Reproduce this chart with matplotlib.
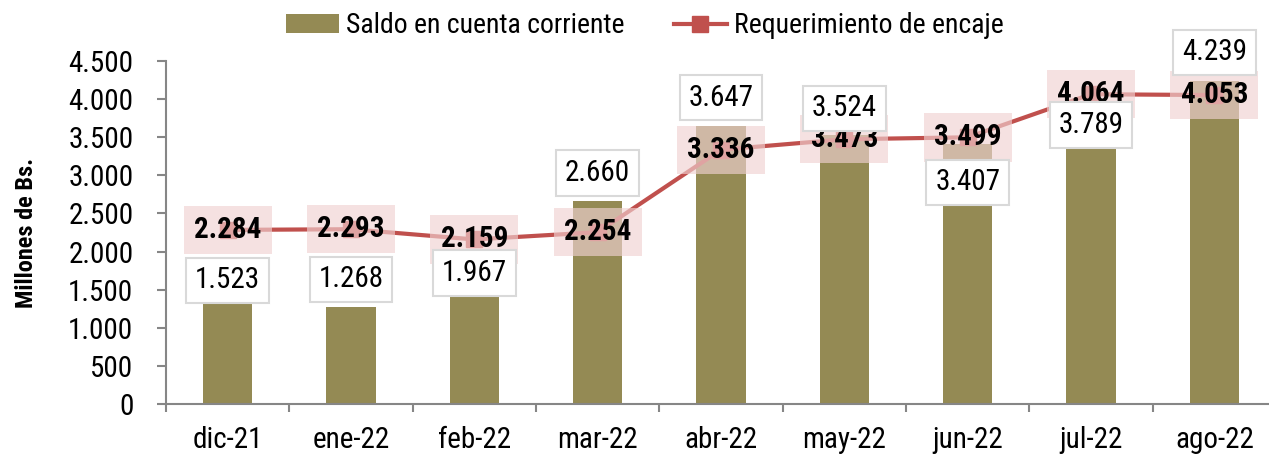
import matplotlib.pyplot as plt
from matplotlib.lines import Line2D
from matplotlib.patches import Patch

# Data
meses = ["dic-21", "ene-22", "feb-22", "mar-22", "abr-22",
         "may-22", "jun-22", "jul-22", "ago-22"]
saldo = [1523, 1268, 1967, 2660, 3647, 3524, 3407, 3789, 4239]
encaje = [2284, 2293, 2159, 2254, 3336, 3473, 3499, 4064, 4053]
yticks = [0, 500, 1000, 1500, 2000, 2500, 3000, 3500, 4000, 4500]

plt.rcParams["font.family"] = ["Roboto Condensed", "Archivo Narrow",
                               "Liberation Sans", "DejaVu Sans"]


def fmt(v):
    return f"{v:,}".replace(",", ".")


bar_color = "#948A54"
line_color = "#C0504D"
axis_gray = "#868686"
fs = 21

fig = plt.figure(figsize=(12.69, 4.55), dpi=100)
ax = fig.add_axes([166 / 1269, 51 / 455, 1110 / 1269, 343 / 455])

x = list(range(len(meses)))
ax.bar(x, saldo, width=0.4, color=bar_color, zorder=2)
ax.plot(x, encaje, color=line_color, lw=3, marker="s", ms=11,
        zorder=3)

# line labels (bold, translucent pink box)
for i, v in enumerate(encaje):
    ax.annotate(fmt(v), (i, v), ha="center", va="center", fontsize=fs,
                fontweight="bold", zorder=4,
                bbox=dict(boxstyle="square,pad=0.35", fc="#F0D1D1",
                          ec="none", alpha=0.65))

# bar labels, placed by hand like the original
label_offsets = [7.5, 28, -19, 28, 28.5, 27, -38, -10, 28.5]
for i, v in enumerate(saldo):
    ax.annotate(fmt(v), (i, v), xytext=(0, label_offsets[i]),
                textcoords="offset pixels", ha="center", va="center",
                fontsize=fs, zorder=5,
                bbox=dict(boxstyle="square,pad=0.3", fc="white",
                          ec="#D9D9D9", lw=1.5))

ax.set_xlim(-0.5, len(meses) - 0.5)
ax.set_ylim(0, 4500)
ax.set_yticks(yticks)
ax.set_yticklabels([fmt(t) for t in yticks], fontsize=fs)
ax.set_xticks(x)
ax.set_xticklabels(meses, fontsize=fs)
ax.set_xticks([i - 0.5 for i in range(len(meses) + 1)], minor=True)
ax.tick_params(axis="x", which="major", length=0, pad=16)
ax.tick_params(axis="x", which="minor", length=6, width=1.5,
               color=axis_gray, direction="out")
ax.tick_params(axis="y", length=6.5, width=1.5, color=axis_gray,
               direction="out", pad=17)

for s in ["top", "right"]:
    ax.spines[s].set_visible(False)
for s in ["left", "bottom"]:
    ax.spines[s].set_color(axis_gray)
    ax.spines[s].set_linewidth(1.5)

ax.set_ylabel("Millones de Bs.", fontsize=17.5, fontweight="bold",
              labelpad=22)

handles = [
    Patch(facecolor=bar_color, edgecolor="none"),
    Line2D([0], [0], color=line_color, lw=3, marker="s", ms=11),
]
fig.legend(handles, ["Saldo en cuenta corriente", "Requerimiento de encaje"],
           loc="center", bbox_to_anchor=(0.508, 0.943), ncol=2,
           frameon=False, fontsize=20, handlelength=1.9,
           handletextpad=0.25, columnspacing=1.8)

fig.savefig("out.png", dpi=100)
